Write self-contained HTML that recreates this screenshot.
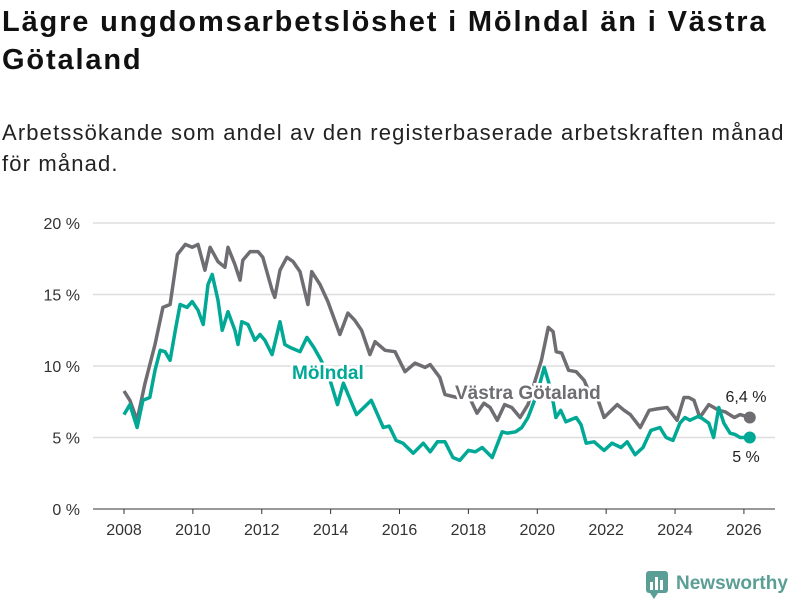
<!DOCTYPE html>
<html><head><meta charset="utf-8"><style>
body{margin:0;background:#fff;width:800px;height:600px;overflow:hidden;font-family:"Liberation Sans",sans-serif;}
h1{position:absolute;left:2px;top:3px;margin:0;font-size:29px;letter-spacing:1.85px;line-height:38px;font-weight:bold;color:#111;width:790px;}
p{position:absolute;left:2px;top:117px;margin:0;font-size:22px;letter-spacing:1.15px;line-height:31px;color:#222;width:797px;}
svg{position:absolute;left:0;top:0;}
</style></head><body>
<h1>Lägre ungdomsarbetslöshet i Mölndal än i Västra Götaland</h1>
<p>Arbetssökande som andel av den registerbaserade arbetskraften månad för månad.</p>
<svg id="chart" width="800" height="600"></svg>
<script>
const yTicks=[0,5,10,15,20];
const xTicks=[2008,2010,2012,2014,2016,2018,2020,2022,2024,2026];
const vgDates=[2008.0,2008.17,2008.38,2008.6,2008.9,2009.13,2009.34,2009.55,2009.78,2009.98,2010.15,2010.35,2010.5,2010.73,2010.93,2011.02,2011.22,2011.37,2011.45,2011.66,2011.89,2012.03,2012.3,2012.38,2012.53,2012.73,2012.91,2013.11,2013.34,2013.45,2013.69,2013.92,2014.27,2014.5,2014.7,2014.9,2015.14,2015.29,2015.58,2015.87,2016.16,2016.45,2016.74,2016.89,2017.17,2017.32,2017.67,2017.87,2018.07,2018.25,2018.45,2018.63,2018.84,2019.05,2019.26,2019.5,2019.73,2019.94,2020.12,2020.32,2020.46,2020.55,2020.71,2020.91,2021.13,2021.36,2021.54,2021.74,2021.94,2022.32,2022.52,2022.7,2022.99,2023.25,2023.48,2023.77,2024.06,2024.26,2024.4,2024.55,2024.72,2024.98,2025.27,2025.45,2025.72,2025.89,2026.17];
const vgValues=[8.25,7.6,6.2,8.7,11.5,14.1,14.3,17.8,18.5,18.3,18.5,16.7,18.3,17.3,16.9,18.3,17.1,16.0,17.4,18.0,18.0,17.6,15.3,14.8,16.7,17.6,17.3,16.6,14.3,16.6,15.7,14.5,12.2,13.7,13.2,12.5,10.8,11.7,11.1,11.0,9.6,10.2,9.9,10.1,9.2,8.0,7.8,8.1,7.6,6.7,7.4,7.1,6.2,7.3,7.1,6.4,7.3,9.0,10.4,12.7,12.4,11.0,10.9,9.7,9.6,9.0,8.0,7.8,6.4,7.3,6.9,6.6,5.7,6.9,7.0,7.1,6.2,7.8,7.8,7.6,6.4,7.3,6.9,6.8,6.4,6.6,6.4];
const mDates=[2008.0,2008.17,2008.38,2008.55,2008.75,2008.9,2009.05,2009.19,2009.34,2009.49,2009.63,2009.83,2009.98,2010.15,2010.3,2010.44,2010.56,2010.73,2010.85,2011.02,2011.22,2011.31,2011.42,2011.6,2011.8,2011.95,2012.09,2012.3,2012.53,2012.67,2012.82,2013.11,2013.31,2013.51,2013.7,2013.92,2014.2,2014.37,2014.75,2015.18,2015.53,2015.7,2015.9,2016.1,2016.4,2016.69,2016.89,2017.1,2017.32,2017.55,2017.75,2018.0,2018.2,2018.4,2018.69,2018.98,2019.13,2019.37,2019.55,2019.73,2020.0,2020.2,2020.4,2020.54,2020.68,2020.83,2021.13,2021.27,2021.42,2021.65,2021.94,2022.17,2022.43,2022.61,2022.84,2023.07,2023.3,2023.56,2023.74,2023.94,2024.14,2024.29,2024.43,2024.69,2024.98,2025.12,2025.27,2025.42,2025.6,2025.75,2025.89,2026.17];
const mValues=[6.6,7.3,5.7,7.6,7.8,9.7,11.1,11.0,10.4,12.5,14.3,14.1,14.5,13.9,12.9,15.7,16.4,14.6,12.5,13.8,12.5,11.5,13.1,12.9,11.8,12.2,11.8,10.8,13.1,11.5,11.3,11.0,12.0,11.3,10.5,9.5,7.3,8.8,6.6,7.6,5.7,5.8,4.8,4.6,3.9,4.6,4.0,4.7,4.7,3.6,3.4,4.1,4.0,4.3,3.6,5.4,5.3,5.4,5.7,6.4,8.1,9.9,8.3,6.4,6.9,6.1,6.4,5.9,4.6,4.7,4.1,4.6,4.3,4.7,3.8,4.3,5.5,5.7,5.0,4.8,6.0,6.4,6.2,6.5,6.0,5.0,7.1,6.0,5.3,5.2,5.0,5.0];
const NS="http://www.w3.org/2000/svg";
const svg=document.getElementById('chart');
const x=v=>124+(v-2008)*34.44;
const y=v=>509-v*14.3;
function el(t,a,txt){const e=document.createElementNS(NS,t);for(const k in a)e.setAttribute(k,a[k]);if(txt!=null)e.textContent=txt;svg.appendChild(e);return e;}
yTicks.forEach(t=>{
  const g=el('line',{x1:93,x2:775,y1:y(t),y2:y(t),stroke:t===0?'#333':'#ddd','stroke-width':t===0?1:1.5});
  
  
  const l=el('text',{x:80,y:y(t)+6,'text-anchor':'end','font-size':16,fill:'#333'},t+' %');
  
  
});
xTicks.forEach(t=>{
  const k=el('line',{x1:x(t),x2:x(t),y1:509,y2:514,stroke:'#333'});
  
  
  const l=el('text',{x:x(t),y:535,'text-anchor':'middle','font-size':16,fill:'#333'},t);
  
  
});
function line(d,v,c,name){
  const p=el('path',{d:d.map((t,i)=>(i?'L':'M')+x(t).toFixed(1)+','+y(v[i]).toFixed(1)).join(''),fill:'none',stroke:c,'stroke-width':3.5,'stroke-linejoin':'round'});
  
  
  const c2=el('circle',{cx:x(d[d.length-1]),cy:y(v[v.length-1]),r:6,fill:c});
  
  
}
line(vgDates,vgValues,'#6f6d72','vastra-gotaland-line');
line(mDates,mValues,'#00a896','molndal-line');
const halo={stroke:'#fff','stroke-width':5,'paint-order':'stroke','font-weight':'bold','font-size':19};
const l1=el('text',Object.assign({x:292,y:379,fill:'#00a896'},halo),'Mölndal');


const l2=el('text',Object.assign({x:455,y:399,fill:'#6f6d72'},halo),'Västra Götaland');


const v1=el('text',{x:746,y:402,'text-anchor':'middle','font-size':16,fill:'#222'},vgValues[vgValues.length-1].toString().replace('.',',')+' %');


const v2=el('text',{x:746,y:462,'text-anchor':'middle','font-size':16,fill:'#222'},mValues[mValues.length-1].toString().replace('.',',')+' %');


</script>
<svg width="800" height="600" style="pointer-events:none">
<rect x="646" y="571" width="22" height="22" rx="3" fill="#5b9e95"/>
<rect x="650" y="582" width="3" height="8" fill="#fff"/><rect x="655" y="577" width="3" height="13" fill="#fff"/><rect x="660" y="580" width="3" height="10" fill="#fff"/>
<polygon points="650,593 658,593 654,599" fill="#5b9e95"/>
<text x="676" y="589" font-size="19" font-weight="bold" fill="#5b9e95" font-family="Liberation Sans, sans-serif">Newsworthy</text>
</svg>
</body></html>
